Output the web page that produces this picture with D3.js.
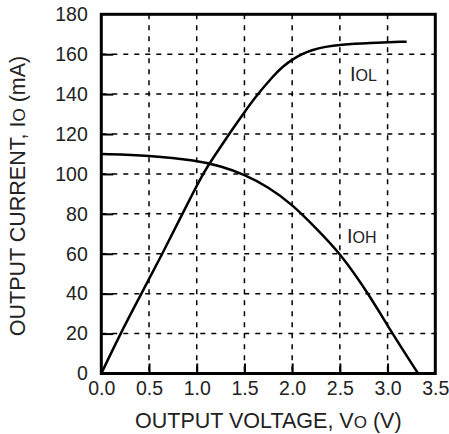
<html>
<head>
<script src="https://d3js.org/d3.v7.min.js"></script>
<style>
body { margin: 0; background: #fff; }
text { font-family: "Liberation Sans", Arial, sans-serif; fill: #222; }
.grid line { stroke: #000; stroke-width: 1.5; stroke-dasharray: 5,6; }
.axis line { stroke: #000; stroke-width: 2; }
.axis text { font-size: 19.5px; }
.curve { fill: none; stroke: #000; stroke-width: 2.5; }
</style>
</head>
<body>
<svg width="449" height="434"></svg>
<script>

// values
var xTicks = [0.0, 0.5, 1.0, 1.5, 2.0, 2.5, 3.0, 3.5];
var yTicks = [0, 20, 40, 60, 80, 100, 120, 140, 160, 180];

var iolVolts = [0, 0.2, 0.42, 0.64, 0.85, 1.06, 1.2, 1.36, 1.5, 1.63, 1.8, 1.9, 2.0, 2.1, 2.2, 2.35, 2.5, 2.8, 3.2];
var iolMa    = [0, 20, 40, 60, 80, 100, 110, 121.5, 131, 139.5, 149, 153.8, 157.3, 160, 162, 163.8, 164.8, 165.7, 166.3];

var iohVolts = [0, 0.5, 1.0, 1.25, 1.5, 1.75, 2.0, 2.25, 2.5, 2.8, 3.05, 3.32];
var iohMa    = [110, 109.3, 106.8, 104, 99.8, 93.5, 84.8, 72.8, 60.5, 40, 20, 0];

var svg = d3.select("svg");

var x = d3.scaleLinear().domain([0, 3.5]).range([101.3, 435.3]),
    y = d3.scaleLinear().domain([0, 180]).range([373.5, 14.3]);

// dashed grid
var grid = svg.append("g").attr("class", "grid");
grid.selectAll(".gx")
    .data(xTicks.slice(1, -1))
  .enter().append("line")
    .attr("x1", function(d) { return x(d); })
    .attr("x2", function(d) { return x(d); })
    .attr("y1", y(180))
    .attr("y2", y(0));
grid.selectAll(".gy")
    .data(yTicks.slice(1, -1))
  .enter().append("line")
    .attr("x1", x(0))
    .attr("x2", x(3.5))
    .attr("y1", function(d) { return y(d); })
    .attr("y2", function(d) { return y(d); });

var xAxis = d3.axisBottom(x).tickValues(xTicks).tickSize(-10).tickPadding(8)
    .tickFormat(d3.format(".1f"));
var yAxis = d3.axisLeft(y).tickValues(yTicks).tickSize(-12).tickPadding(13.5)
    .tickFormat(d3.format("d"));

var gx = svg.append("g")
    .attr("class", "axis")
    .attr("transform", "translate(0," + y(0) + ")")
    .call(xAxis);
gx.select(".domain").remove();
gx.selectAll(".tick").filter(function(d) { return d == 0 || d == 3.5; }).select("line").remove();

var gy = svg.append("g")
    .attr("class", "axis")
    .attr("transform", "translate(" + x(0) + ",0)")
    .call(yAxis);
gy.select(".domain").remove();
gy.selectAll(".tick").filter(function(d) { return d == 0 || d == 180; }).select("line").remove();

// curves
var line = d3.line()
    .curve(d3.curveBasis)
    .x(function(d) { return x(d[0]); })
    .y(function(d) { return y(d[1]); });

svg.append("path")
    .attr("class", "curve")
    .attr("d", line(d3.zip(iolVolts, iolMa)));
svg.append("path")
    .attr("class", "curve")
    .attr("d", line(d3.zip(iohVolts, iohMa)));

// frame
svg.append("rect")
    .attr("x", x(0))
    .attr("y", y(180))
    .attr("width", x(3.5) - x(0))
    .attr("height", y(0) - y(180))
    .attr("fill", "none")
    .attr("stroke", "#000")
    .attr("stroke-width", 3);

// curve labels
function sublabel(px, py, main, sub) {
  var t = svg.append("text")
      .attr("x", px)
      .attr("y", py)
      .style("font-size", "20px");
  t.append("tspan").text(main);
  t.append("tspan").style("font-size", "16px").text(sub);
  return t;
}
sublabel(350, 80.5, "I", "OL");
sublabel(347, 243, "I", "OH");

// axis titles
var xt = svg.append("text")
    .attr("x", (x(0) + x(3.5)) / 2)
    .attr("y", 428)
    .attr("text-anchor", "middle")
    .style("font-size", "21.5px");
xt.append("tspan").text("OUTPUT VOLTAGE, V");
xt.append("tspan").style("font-size", "17px").text("O");
xt.append("tspan").text(" (V)");

var yt = svg.append("text")
    .attr("transform", "translate(25,196) rotate(-90)")
    .attr("text-anchor", "middle")
    .style("font-size", "21.5px");
yt.append("tspan").text("OUTPUT CURRENT, I");
yt.append("tspan").style("font-size", "17px").text("O");
yt.append("tspan").text(" (mA)");

</script>
</body>
</html>
